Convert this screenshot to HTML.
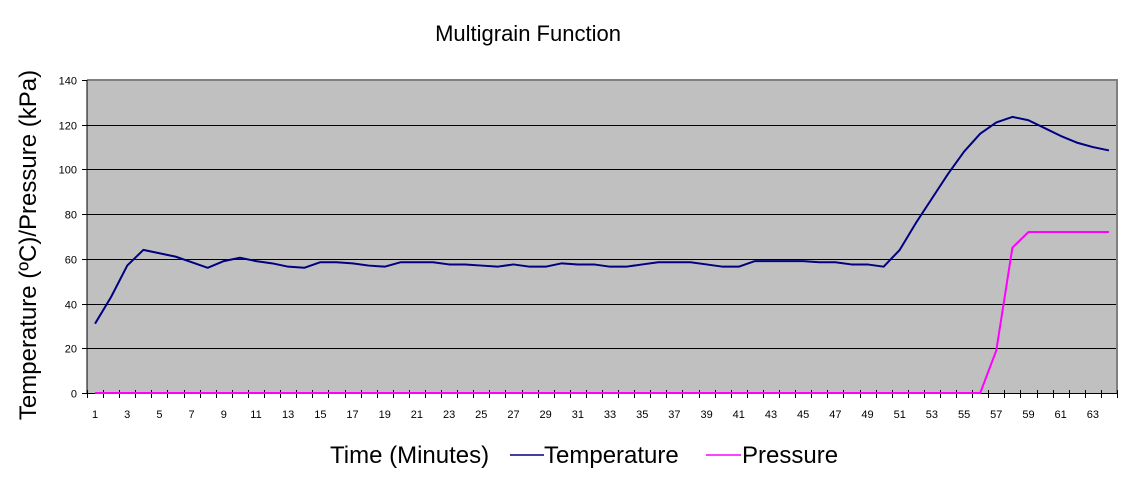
<!DOCTYPE html>
<html><head><meta charset="utf-8"><style>
html,body{margin:0;padding:0;background:#fff;}
svg{display:block;font-family:"Liberation Sans",Arial,sans-serif;}
</style></head><body>
<svg id="chart" width="1130" height="499" viewBox="0 0 1130 499">
<text x="528" y="41" font-size="22" text-anchor="middle">Multigrain Function</text>
<rect x="87" y="80" width="1030" height="313" fill="#c0c0c0"/>
<g id="grid"></g>
<line x1="87" y1="80" x2="1117" y2="80" stroke="#808080" stroke-width="2"/>
<line x1="1117" y1="79" x2="1117" y2="394" stroke="#808080" stroke-width="2"/>
<line x1="87" y1="80" x2="87" y2="394" stroke="#000" stroke-width="1"/>
<g id="yticks"></g>
<g id="xticks"></g>
<g id="series"></g>
<text transform="translate(36,245) rotate(-90)" font-size="24" text-anchor="middle">Temperature (ºC)/Pressure (kPa)</text>
<text x="330" y="463" font-size="24">Time (Minutes)</text>
<g>
<line x1="510" y1="455" x2="544" y2="455" stroke="#000080" stroke-width="1.5"/>
<text x="544" y="463" font-size="24">Temperature</text>
</g>
<g>
<line x1="706" y1="455" x2="741" y2="455" stroke="#ff00ff" stroke-width="1.5"/>
<text x="742" y="463" font-size="24">Pressure</text>
</g>
</svg>
<script>
const categories = Array.from({length:64},(_,i)=>i+1);
const temperature = [31,43,57,64,62.5,61,58.5,56,59,60.5,59,58,56.5,56,58.5,58.5,58,57,56.5,58.5,58.5,58.5,57.5,57.5,57,56.5,57.5,56.5,56.5,58,57.5,57.5,56.5,56.5,57.5,58.5,58.5,58.5,57.5,56.5,56.5,59,59,59,59,58.5,58.5,57.5,57.5,56.5,64,76,87,98,108,116,121,123.5,122,118.5,115,112,110,108.5];
const pressure = [0,0,0,0,0,0,0,0,0,0,0,0,0,0,0,0,0,0,0,0,0,0,0,0,0,0,0,0,0,0,0,0,0,0,0,0,0,0,0,0,0,0,0,0,0,0,0,0,0,0,0,0,0,0,0,0,19,65,72,72,72,72,72,72];
const yTicks = [0,20,40,60,80,100,120,140];

const NS="http://www.w3.org/2000/svg";
const X0=87,X1=1117,Y0=393,Y1=80,YMAX=140;
const bw=(X1-X0)/categories.length;
const xPos=i=>X0+(i+0.5)*bw;
const yPos=v=>Y0-(v/YMAX)*(Y0-Y1);
function mk(tag,attrs,parent){const e=document.createElementNS(NS,tag);for(const k in attrs)e.setAttribute(k,attrs[k]);parent.appendChild(e);return e;}
const grid=document.getElementById('grid'),yt=document.getElementById('yticks'),xt=document.getElementById('xticks'),ser=document.getElementById('series');
yTicks.forEach(v=>{
  const y=Math.round(yPos(v))+0.5;
  if(v>0&&v<YMAX){const g=mk('line',{x1:X0,y1:y,x2:X1,y2:y,stroke:'#000','stroke-width':1},grid);
  
  }
  mk('line',{x1:X0-5,y1:y,x2:X0,y2:y,stroke:'#000'},yt);
  const t=mk('text',{x:X0-10,y:y+4,'font-size':11,'text-anchor':'end'},yt);
  t.textContent=v;
  
  
});
mk('line',{x1:X0,y1:Y0+0.5,x2:X1,y2:Y0+0.5,stroke:'#000'},xt);
for(let i=0;i<=categories.length;i++){const x=Math.round(X0+i*bw)+0.5;mk('line',{x1:x,y1:Y0-3,x2:x,y2:Y0+5,stroke:'#000'},xt);}
categories.forEach((c,i)=>{
  if(c%2===1){const t=mk('text',{x:xPos(i),y:418,'font-size':11,'text-anchor':'middle'},xt);
  t.textContent=c;
  
  }
});
function line(vals,color,name){
  const p=mk('polyline',{points:vals.map((v,i)=>xPos(i)+','+yPos(v)).join(' '),fill:'none',stroke:color,'stroke-width':2,'stroke-linejoin':'round'},ser);
  
  
}
line(pressure,'#ff00ff','pressure-line');
line(temperature,'#000080','temperature-line');
</script>
</body></html>
